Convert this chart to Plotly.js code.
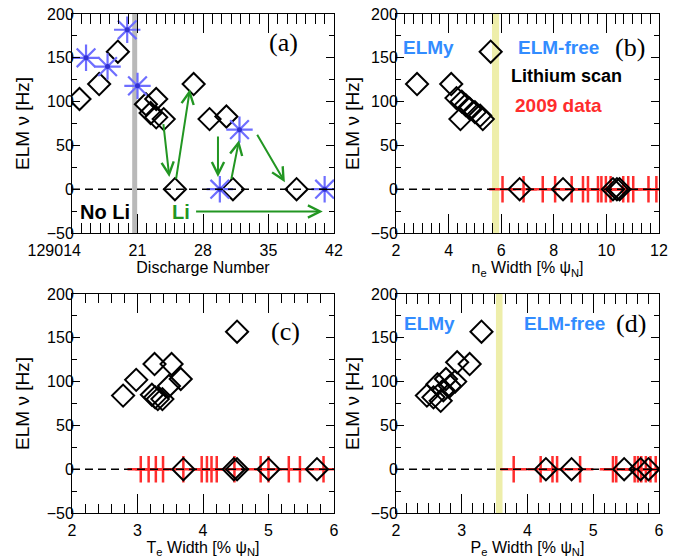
<!DOCTYPE html>
<html>
<head>
<meta charset="utf-8">
<script src="https://cdn.plot.ly/plotly-3.0.1.min.js"></script>
<style>
  html, body { margin: 0; padding: 0; background: #ffffff; }
  #chart { width: 689px; height: 558px; }
</style>
</head>
<body>
<div id="chart"></div>
<script>
// ---------- Panel (a): ELM frequency vs discharge number ----------
const shotTickVals = [14, 21, 28, 35, 42];
const shotTickText = ['129014\u00a0\u00a0\u00a0\u00a0\u00a0\u00a0\u00a0\u00a0', '21', '28', '35', '42'];
const shotDiamondX = [14.8, 16.9, 18.9, 21.9, 23.0, 22.4, 23.0, 23.8, 25.0, 27.0, 28.7, 30.5, 31.2, 38.0];
const shotDiamondY = [103, 120, 157, 97, 103, 87, 82, 80, 0, 120, 80, 83, 0, 0];
const shotStarX = [15.5, 17.8, 19.9, 21.0, 29.8, 31.9, 41.0];
const shotStarY = [150, 140, 182, 118, 0, 68, 0];
const noLiBoundary = 20.7;
// arrows (tail -> head)
const arrowTailX = [23.75, 25.1, 29.6, 31.0, 33.7, 27.1];
const arrowTailY = [76, 10, 62, 10, 64, -25.5];
const arrowHeadX = [24.4, 26.6, 29.6, 31.85, 36.75, 40.8];
const arrowHeadY = [14, 114, 14, 56, 8, -25.5];

// ---------- Panel (b): n_e width ----------
const neWidth = [2.8, 4.1, 5.6, 4.3, 4.5, 4.65, 4.8, 5.0, 5.2, 4.45, 5.3, 6.7, 8.35, 10.25, 10.4, 10.5];
const neFreq  = [120, 120, 157, 104, 100, 96, 92, 88, 84, 80, 80, 0, 0, 0, 0, 0];
const neWidth2009 = [6.05, 6.85, 7.58, 8.05, 8.68, 9.11, 9.3, 9.68, 9.81, 9.98, 10.16, 10.64, 10.83, 11.02, 11.6, 11.9];
const neFreq2009  = [0, 0, 0, 0, 0, 0, 0, 0, 0, 0, 0, 0, 0, 0, 0, 0];
const neThreshold = [5.65, 5.92];

// ---------- Panel (c): T_e width ----------
const teWidth = [2.78, 2.98, 3.26, 3.52, 3.66, 3.48, 3.22, 3.27, 3.31, 3.38, 4.52, 3.7, 4.47, 4.52, 5.0, 5.74];
const teFreq  = [84, 102, 120, 120, 103, 95, 85, 82, 80, 80, 157, 0, 0, 0, 0, 0];
const teWidth2009 = [3.05, 3.17, 3.28, 3.39, 3.7, 3.98, 4.06, 4.13, 4.21, 4.48, 4.88, 5.0, 5.31, 5.48, 5.84];
const teFreq2009  = [0, 0, 0, 0, 0, 0, 0, 0, 0, 0, 0, 0, 0, 0, 0];

// ---------- Panel (d): P_e width ----------
const peWidth = [3.3, 3.12, 2.93, 2.47, 2.57, 2.68, 2.63, 2.76, 2.9, 2.72, 2.82, 4.28, 4.67, 5.47, 5.72, 5.84];
const peFreq  = [157, 120, 122, 84, 82, 78, 97, 103, 100, 90, 95, 0, 0, 0, 0, 0];
const peWidth2009 = [3.79, 4.2, 4.38, 4.45, 4.8, 5.3, 5.35, 5.63, 5.68, 5.73, 5.8, 5.87, 5.95];
const peFreq2009  = [0, 0, 0, 0, 0, 0, 0, 0, 0, 0, 0, 0, 0];
const peThreshold = [3.52, 3.62];

// ---------- styles ----------
const FONT = 'Liberation Sans, Arial, Helvetica, sans-serif';
const SERIF = 'Liberation Serif, Times New Roman, serif';
const BLUE_TXT = 'rgb(50,140,255)';
const GREEN = 'rgb(34,150,34)';
const RED = 'rgb(255,45,45)';
const STAR = 'rgb(110,110,255)';
const TICKC = 'black';
const TICKW = 1;

function diamonds(x, y, xa, ya) {
  return { x: x, y: y, xaxis: xa, yaxis: ya, type: 'scatter', mode: 'markers',
    marker: { symbol: 'diamond-open', size: 17, color: 'black', line: { color: 'black', width: 2 } } };
}
function red2009(x, y, xa, ya) {
  return { x: x, y: y, xaxis: xa, yaxis: ya, type: 'scatter', mode: 'markers',
    marker: { symbol: 'cross-thin-open', size: 19, color: RED, line: { color: RED, width: 2.5 } } };
}

const traces = [
  red2009(neWidth2009, neFreq2009, 'x2', 'y2'),
  red2009(teWidth2009, teFreq2009, 'x3', 'y3'),
  red2009(peWidth2009, peFreq2009, 'x4', 'y4'),
  diamonds(shotDiamondX, shotDiamondY, 'x', 'y'),
  { x: shotStarX, y: shotStarY, xaxis: 'x', yaxis: 'y', type: 'scatter', mode: 'markers',
    marker: { symbol: 'asterisk-open', size: 22, color: STAR, line: { color: STAR, width: 2.2 } } },
  { x: shotStarX, y: shotStarY, xaxis: 'x', yaxis: 'y', type: 'scatter', mode: 'markers',
    marker: { symbol: 'circle', size: 5, color: 'rgb(50,50,210)' } },
  diamonds(neWidth, neFreq, 'x2', 'y2'),
  diamonds(teWidth, teFreq, 'x3', 'y3'),
  diamonds(peWidth, peFreq, 'x4', 'y4')
];

const tickFont = { family: FONT, size: 16 };
const titleFont = { family: FONT, size: 16 };

function minorX(dtick, len) {
  return { dtick: dtick, ticks: 'inside', ticklen: len, tickwidth: TICKW, tickcolor: TICKC };
}
function xAxis(domain, anchor, range, extra) {
  return Object.assign({
    domain: domain, anchor: anchor, range: range,
    showline: true, linecolor: 'black', mirror: 'ticks',
    ticks: 'inside', ticklen: 19, tickwidth: TICKW, tickcolor: TICKC,
    ticklabelstandoff: 3,
    showgrid: false, zeroline: false, tickfont: tickFont
  }, extra);
}
function yAxis(domain, anchor, titleStandoff) {
  return {
    domain: domain, anchor: anchor, range: [-50, 200], dtick: 50,
    showline: true, linecolor: 'black', mirror: 'ticks',
    ticks: 'inside', ticklen: 8, tickwidth: TICKW, tickcolor: TICKC,
    minor: { dtick: 25, ticks: 'inside', ticklen: 5, tickwidth: TICKW, tickcolor: TICKC },
    ticklabelstandoff: -6,
    showgrid: false, zeroline: false, tickfont: tickFont,
    title: { text: 'ELM \u03bd [Hz]', font: { family: FONT, size: 19 }, standoff: titleStandoff }
  };
}

const dxL = [72 / 689, 334 / 689];
const dxR = [396 / 689, 659 / 689];
const dyT = [1 - 233 / 558, 1 - 14 / 558];
const dyB = [1 - 513 / 558, 1 - 294 / 558];

const layout = {
  width: 689, height: 558,
  margin: { l: 0, r: 0, t: 0, b: 0 },
  showlegend: false,
  font: { family: FONT, color: 'black' },
  xaxis: xAxis(dxL, 'y', [14, 42], {
    tickmode: 'array', tickvals: shotTickVals, ticktext: shotTickText,
    minor: minorX(1, 10),
    title: { text: 'Discharge Number', font: titleFont, standoff: 1 }
  }),
  yaxis: yAxis(dyT, 'x', 12),
  xaxis2: xAxis(dxR, 'y2', [2, 12], {
    dtick: 2,
    minor: minorX(2 / 6, 10),
    title: { text: 'n<sub>e</sub> Width [% \u03c8<sub>N</sub>]', font: titleFont, standoff: 1 }
  }),
  yaxis2: yAxis(dyT, 'x2', 6),
  xaxis3: xAxis(dxL, 'y3', [2, 6], {
    dtick: 1,
    minor: minorX(0.2, 9),
    title: { text: 'T<sub>e</sub> Width [% \u03c8<sub>N</sub>]', font: titleFont, standoff: 1 }
  }),
  yaxis3: yAxis(dyB, 'x3', 12),
  xaxis4: xAxis(dxR, 'y4', [2, 6], {
    dtick: 1,
    minor: minorX(1 / 6, 10),
    title: { text: 'P<sub>e</sub> Width [% \u03c8<sub>N</sub>]', font: titleFont, standoff: 1 }
  }),
  yaxis4: yAxis(dyB, 'x4', 6),
  shapes: [
    { type: 'line', xref: 'x', yref: 'y domain', x0: noLiBoundary, x1: noLiBoundary, y0: 0, y1: 1,
      line: { color: 'rgb(185,185,185)', width: 5 }, layer: 'below' },
    { type: 'rect', xref: 'x2', yref: 'y2 domain', x0: neThreshold[0], x1: neThreshold[1], y0: 0, y1: 1,
      fillcolor: 'rgb(238,238,170)', line: { width: 0 }, layer: 'below' },
    { type: 'rect', xref: 'x4', yref: 'y4 domain', x0: peThreshold[0], x1: peThreshold[1], y0: 0, y1: 1,
      fillcolor: 'rgb(238,238,170)', line: { width: 0 }, layer: 'below' }
  ].concat(['', '2', '3', '4'].map(s => ({
    type: 'line', xref: 'x' + s + ' domain', yref: 'y' + s, x0: 0, x1: 1, y0: 0, y1: 0,
    line: { color: 'black', width: 1.5, dash: '8px,5px' }, layer: 'above'
  }))),
  annotations: []
};

for (let i = 0; i < arrowTailX.length; i++) {
  layout.annotations.push({
    xref: 'x', yref: 'y', axref: 'x', ayref: 'y',
    x: arrowHeadX[i], y: arrowHeadY[i], ax: arrowTailX[i], ay: arrowTailY[i],
    text: '', showarrow: true, arrowhead: 5, arrowsize: 1.2, arrowwidth: 2, arrowcolor: GREEN,
    standoff: 0, startstandoff: 0
  });
}

function label(xr, yr, x, y, text, font, xanchor) {
  return { xref: xr, yref: yr, x: x, y: y, text: text, showarrow: false,
    xanchor: xanchor || 'center', yanchor: 'middle', font: font };
}
const boldBlack = { family: FONT, size: 20, color: 'black', weight: 'bold' };
const boldGreen = { family: FONT, size: 20, color: GREEN, weight: 'bold' };
const boldBlue = { family: FONT, size: 19, color: BLUE_TXT, weight: 'bold' };
const boldRed = { family: FONT, size: 19, color: RED, weight: 'bold' };
const serifFont = { family: SERIF, size: 26, color: 'black' };

layout.annotations.push(
  label('x', 'y', 14.68, -25.5, '<b>No Li</b>', boldBlack, 'left'),
  label('x', 'y', 25.6, -26.5, '<b>Li</b>', boldGreen),
  label('x', 'y', 36.6, 167, '(a)', serifFont),
  label('x2', 'y2', 3.22, 162, '<b>ELMy</b>', boldBlue),
  label('x2', 'y2', 8.16, 162, '<b>ELM-free</b>', boldBlue),
  label('x2', 'y2', 10.9, 162, '(b)', serifFont),
  label('x2', 'y2', 8.48, 129, '<b>Lithium scan</b>', { family: FONT, size: 18, color: 'black', weight: 'bold' }),
  label('x2', 'y2', 8.16, 96, '<b>2009 data</b>', boldRed),
  label('x3', 'y3', 5.26, 157, '(c)', serifFont),
  label('x4', 'y4', 2.51, 166, '<b>ELMy</b>', boldBlue),
  label('x4', 'y4', 4.56, 166, '<b>ELM-free</b>', boldBlue),
  label('x4', 'y4', 5.58, 166, '(d)', serifFont)
);

Plotly.newPlot('chart', traces, layout, { displayModeBar: false });
</script>
</body>
</html>
